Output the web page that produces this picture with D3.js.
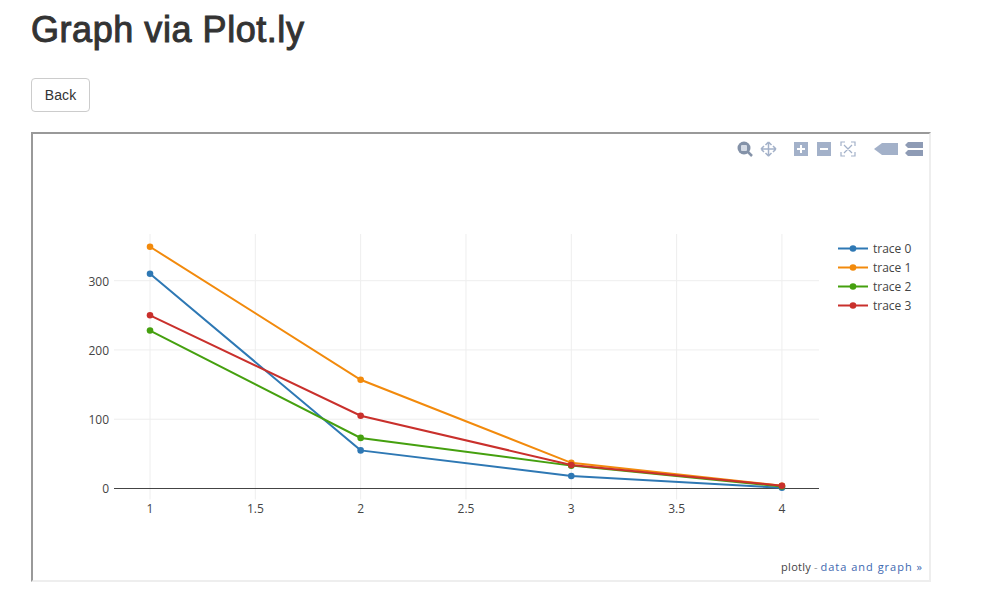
<!DOCTYPE html>
<html>
<head>
<meta charset="utf-8">
<script src="https://cdn.jsdelivr.net/npm/d3@7"></script>
<style>
  html, body { margin: 0; padding: 0; background: #fff; width: 985px; height: 613px; overflow: hidden; }
  h1 {
    position: absolute; left: 31px; top: 10px; margin: 0;
    font: normal 36px/40px "Liberation Sans", Arial, sans-serif; color: #333;
    letter-spacing: 0.55px; -webkit-text-stroke: 1px #333;
  }
  .btn {
    position: absolute; left: 31px; top: 78px; width: 59px; height: 34px; box-sizing: border-box;
    border: 1px solid #ccc; border-radius: 4px; background: #fff; color: #333;
    font: 14px/32px "Liberation Sans", Arial, sans-serif; text-align: center; letter-spacing: 0.1px;
  }
  #frame {
    position: absolute; left: 31px; top: 132px; width: 900px; height: 450px; box-sizing: border-box;
    border-style: solid; border-color: #999 #eee #eee #999; border-width: 2px 2px 2px 2px;
  }
  svg { position: absolute; left: 0; top: 0; }
  text { font-family: "Open Sans", sans-serif; }
  .tick text { font-size: 12px; fill: #444; }
  .grid line { stroke: #eee; stroke-width: 1; }
  .legend text { font-size: 12px; fill: #444; }
</style>
</head>
<body>
<h1>Graph via Plot.ly</h1>
<div class="btn">Back</div>
<div id="frame"></div>
<svg id="chart" width="985" height="613"></svg>
<script>
const xValues = [1, 2, 3, 4];
const xTicks = [1, 1.5, 2, 2.5, 3, 3.5, 4];
const yTicks = [0, 100, 200, 300];

const trace0 = [310, 55, 18, 1];
const trace1 = [349, 157, 37, 4];
const trace2 = [228, 73, 33, 3];
const trace3 = [250, 105, 34, 4];

const traceNames = ['trace 0', 'trace 1', 'trace 2', 'trace 3'];
const traceColors = ['#2e78b4', '#f28a0c', '#45a00f', '#c9302c'];
const traces = [trace0, trace1, trace2, trace3];

const svg = d3.select('#chart');

const xScale = d3.scaleLinear().domain([0.829, 4.176]).range([114, 819]);
const yScale = d3.scaleLinear().domain([-15.9, 367.4]).range([499.5, 234]);

// gridlines first so that the traces sit on top
const grid = svg.append('g').attr('class', 'grid');
grid.selectAll('.vgrid').data(xTicks).join('line')
    .attr('class', 'vgrid')
    .attr('x1', d => xScale(d)).attr('x2', d => xScale(d))
    .attr('y1', yScale.range()[0]).attr('y2', yScale.range()[1]);
grid.selectAll('.hgrid').data(yTicks.filter(d => d != 0)).join('line')
    .attr('class', 'hgrid')
    .attr('x1', xScale.range()[0]).attr('x2', xScale.range()[1])
    .attr('y1', d => yScale(d)).attr('y2', d => yScale(d));

const xAxis = d3.axisBottom(xScale).tickValues(xTicks).tickSize(0).tickPadding(0).tickFormat(d => d);
const yAxis = d3.axisLeft(yScale).tickValues(yTicks).tickSize(0).tickPadding(5);

const xAxisG = svg.append('g').attr('transform', 'translate(-0.5,499.5)').call(xAxis);
xAxisG.select('.domain').remove();
xAxisG.selectAll('text').attr('dy', '0.71em').attr('y', 5);

const yAxisG = svg.append('g').attr('transform', 'translate(114,0.5)').call(yAxis);
yAxisG.select('.domain').remove();

// zero line
svg.append('line')
    .attr('x1', xScale.range()[0]).attr('x2', xScale.range()[1])
    .attr('y1', Math.floor(yScale(0)) + 0.5).attr('y2', Math.floor(yScale(0)) + 0.5)
    .attr('stroke', '#444').attr('stroke-width', 1);

const line = d3.line().x((d, i) => xScale(xValues[i])).y(d => yScale(d));

traces.forEach((values, i) => {
  const g = svg.append('g');
  g.append('path')
      .attr('d', line(values))
      .attr('fill', 'none')
      .attr('stroke', traceColors[i])
      .attr('stroke-width', 2);
  g.selectAll('circle').data(values).join('circle')
      .attr('cx', (d, j) => xScale(xValues[j]))
      .attr('cy', d => yScale(d))
      .attr('r', 3.3)
      .attr('fill', traceColors[i]);
});

// legend
const legend = svg.append('g').attr('class', 'legend');
const legendRow = d3.scalePoint().domain(traceNames).range([248.5, 305.5]);
traceNames.forEach((name, i) => {
  const y = legendRow(name);
  legend.append('line').attr('x1', 838).attr('x2', 868).attr('y1', y).attr('y2', y)
      .attr('stroke', traceColors[i]).attr('stroke-width', 2);
  legend.append('circle').attr('cx', 853).attr('cy', y).attr('r', 3.3).attr('fill', traceColors[i]);
  legend.append('text').attr('x', 873).attr('y', y).attr('dy', '0.35em').text(name);
});

// footer link
const foot = svg.append('text').attr('x', 923).attr('y', 571).attr('text-anchor', 'end')
    .style('font-size', '11px');
foot.append('tspan').attr('fill', '#444').style('letter-spacing', '0.3px').text('plotly');
foot.append('tspan').attr('fill', '#999').text(' - ');
foot.append('tspan').attr('fill', '#3d68b0').style('letter-spacing', '1px').text('data and graph »');

// modebar
const bar = svg.append('g');
const iconColor = '#a3b1c9';
const darkIcon = '#8492a8';
bar.append('circle').attr('cx', 744).attr('cy', 148).attr('r', 6.5).attr('fill', darkIcon);
bar.append('rect').attr('x', 741).attr('y', 145).attr('width', 6).attr('height', 6).attr('rx', 1).attr('fill', '#d5dbe5');
bar.append('line').attr('x1', 748).attr('y1', 152).attr('x2', 752).attr('y2', 156).attr('stroke', darkIcon).attr('stroke-width', 2.5);
bar.append('path').attr('d', 'M761 149H776M768.5 142V156M761 149l3-3M761 149l3 3M776 149l-3-3M776 149l-3 3M768.5 142l-3 3M768.5 142l3 3M768.5 156l-3-3M768.5 156l3-3')
    .attr('fill', 'none').attr('stroke', iconColor).attr('stroke-width', 1.5);
bar.append('rect').attr('x', 794).attr('y', 142).attr('width', 14).attr('height', 14).attr('fill', iconColor);
bar.append('path').attr('d', 'M797 149H805M801 145V153').attr('stroke', '#fff').attr('stroke-width', 2);
bar.append('rect').attr('x', 817).attr('y', 142).attr('width', 14).attr('height', 14).attr('fill', iconColor);
bar.append('path').attr('d', 'M820 149H828').attr('stroke', '#fff').attr('stroke-width', 2);
bar.append('path').attr('d', 'M841 146V142H845M851 142H855V146M841 152V156H845M851 156H855V152M844 145L852 153M852 145L844 153')
    .attr('fill', 'none').attr('stroke', iconColor).attr('stroke-width', 1.2);
bar.append('path').attr('d', 'M874 149L882 143H898V155H882Z').attr('fill', iconColor);
bar.append('path').attr('d', 'M905 145L908 142H923V148H908ZM905 153L908 150H923V156H908Z').attr('fill', '#8e9bb5');
</script>
</body>
</html>
